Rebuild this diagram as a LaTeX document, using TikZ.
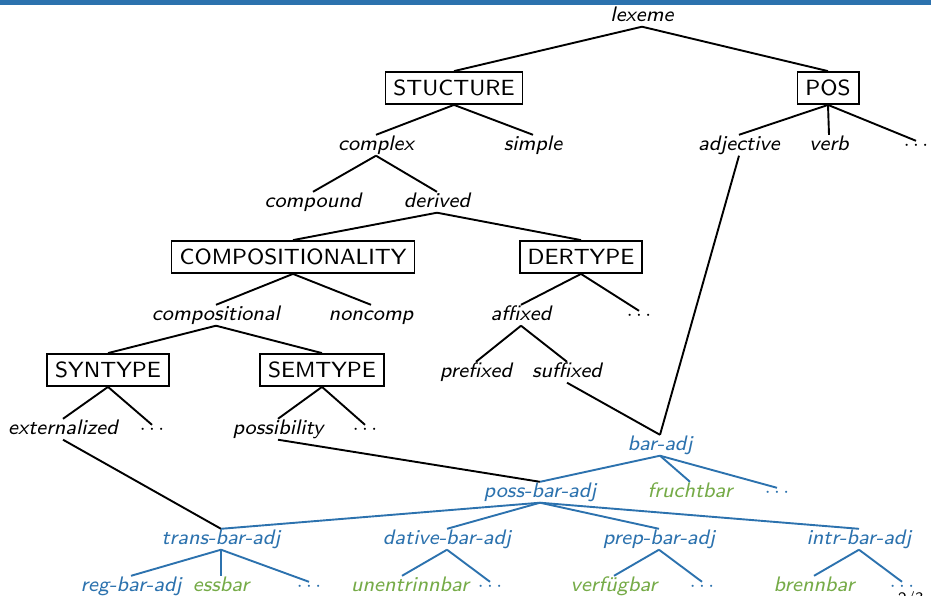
\documentclass[tikz,border=0pt]{standalone}
\usepackage{fontspec}
\setsansfont{lmsans8-regular.otf}[ItalicFont=lmsans8-oblique.otf]
\definecolor{treeblue}{RGB}{44,114,174}
\definecolor{leafgreen}{RGB}{118,171,72}
\begin{document}
\begin{tikzpicture}[x=1pt,y=-1pt,
  every node/.style={font=\fontsize{22}{26}\selectfont\sffamily},
  lab/.style={anchor=base,inner sep=1pt,text height=14pt,text depth=4.5pt,
    font=\fontsize{21}{25}\selectfont\sffamily\itshape},
  blab/.style={lab,text=treeblue},
  glab/.style={lab,text=leafgreen},
  dotsnode/.style={anchor=base,inner sep=1pt,text height=8pt,text depth=0pt},
  bdots/.style={dotsnode,text=treeblue},
  catbox/.style={draw,line width=1.8pt,inner xsep=8pt,inner ysep=0pt,minimum height=32pt},
  edge/.style={line width=1.9pt},
  bedge/.style={line width=1.9pt,draw=treeblue}]
\useasboundingbox (0,0) rectangle (931,595);
% frame title rule
\fill[treeblue] (0,0) rectangle (931,5);

% upper hierarchy
\node[lab] (lexeme) at (642,21) {lexeme};
\node[catbox] (stru) at (454,88) {STUCTURE};
\node[catbox] (pos) at (828,88) {POS};
\node[lab] (complex) at (376,150) {complex};
\node[lab] (simple) at (533,150) {simple};
\node[lab] (adj) at (739,150) {adjective};
\node[lab] (verb) at (829,150) {verb};
\node[dotsnode] (posdots) at (916,150) {$\cdots$};
\node[lab] (compound) at (313,207) {compound};
\node[lab] (derived) at (437,207) {derived};
\node[catbox] (compo) at (293,257) {COMPOSITIONALITY};
\node[catbox] (dert) at (581,257) {DERTYPE};
\node[lab] (compal) at (216,320) {compositional};
\node[lab] (noncomp) at (371,320) {noncomp};
\node[lab] (affixed) at (521,320) {affixed};
\node[dotsnode] (derdots) at (639,320) {$\cdots$};
\node[catbox] (syn) at (108,370) {SYNTYPE};
\node[catbox] (sem) at (322,370) {SEMTYPE};
\node[lab] (prefixed) at (476,377) {prefixed};
\node[lab] (suffixed) at (567,377) {suffixed};
\node[lab] (ext) at (63,434) {externalized};
\node[dotsnode] (syndots) at (152,434) {$\cdots$};
\node[lab] (possib) at (278,434) {possibility};
\node[dotsnode] (semdots) at (365,434) {$\cdots$};

% lexical type hierarchy
\node[blab] (baradj) at (660,450) {bar-adj};
\node[blab] (possbar) at (540,497) {poss-bar-adj};
\node[glab] (frucht) at (690,497) {fruchtbar};
\node[bdots] (bardots) at (777,497) {$\cdots$};
\node[blab] (trans) at (221,544) {trans-bar-adj};
\node[blab] (dative) at (447,544) {dative-bar-adj};
\node[blab] (prep) at (659,544) {prep-bar-adj};
\node[blab] (intr) at (859,544) {intr-bar-adj};
\node[blab] (regbar) at (131,591) {reg-bar-adj};
\node[glab] (essbar) at (221,591) {essbar};
\node[bdots] (transdots) at (309,591) {$\cdots$};
\node[glab] (unent) at (410,591) {unentrinnbar};
\node[bdots] (datdots) at (490,591) {$\cdots$};
\node[glab] (verfueg) at (614,591) {verfügbar};
\node[bdots] (prepdots) at (702,591) {$\cdots$};
\node[glab] (brenn) at (814,591) {brennbar};
\node[bdots] (intrdots) at (902,591) {$\cdots$};

% page number, running off the bottom edge
\node[anchor=north west,inner sep=0pt,font=\fontsize{16}{18}\selectfont\sffamily] (pageno) at (898,591) {2/3};

% black edges
\draw[edge] (lexeme.south) -- (stru.north);
\draw[edge] (lexeme.south) -- (pos.north);
\draw[edge] (stru.south) -- (complex.north);
\draw[edge] (stru.south) -- (simple.north);
\draw[edge] (pos.south) -- (adj.north);
\draw[edge] (pos.south) -- (verb.north);
\draw[edge] (pos.south) -- (posdots.north);
\draw[edge] (complex.south) -- (compound.north);
\draw[edge] (complex.south) -- (derived.north);
\draw[edge] (derived.south) -- (compo.north);
\draw[edge] (derived.south) -- (dert.north);
\draw[edge] (compo.south) -- (compal.north);
\draw[edge] (compo.south) -- (noncomp.north);
\draw[edge] (dert.south) -- (affixed.north);
\draw[edge] (dert.south) -- (derdots.north);
\draw[edge] (compal.south) -- (syn.north);
\draw[edge] (compal.south) -- (sem.north);
\draw[edge] (affixed.south) -- (prefixed.north);
\draw[edge] (affixed.south) -- (suffixed.north);
\draw[edge] (syn.south) -- (ext.north);
\draw[edge] (syn.south) -- (syndots.north);
\draw[edge] (sem.south) -- (possib.north);
\draw[edge] (sem.south) -- (semdots.north);
% multiple inheritance into the lexical types
\draw[edge] (suffixed.south) -- (baradj.north);
\draw[edge] (adj.south) -- (baradj.north);
\draw[edge] (possib.south) -- (possbar.north);
\draw[edge] (ext.south) -- (trans.north);

% blue edges
\draw[bedge] (baradj.south) -- (possbar.north);
\draw[bedge] (baradj.south) -- (frucht.north);
\draw[bedge] (baradj.south) -- (bardots.north);
\draw[bedge] (possbar.south) -- (trans.north);
\draw[bedge] (possbar.south) -- (dative.north);
\draw[bedge] (possbar.south) -- (prep.north);
\draw[bedge] (possbar.south) -- (intr.north);
\draw[bedge] (trans.south) -- (regbar.north);
\draw[bedge] (trans.south) -- (essbar.north);
\draw[bedge] (trans.south) -- (transdots.north);
\draw[bedge] (dative.south) -- ([xshift=-8pt]unent.north);
\draw[bedge] (dative.south) -- (datdots.north);
\draw[bedge] (prep.south) -- (verfueg.north);
\draw[bedge] (prep.south) -- (prepdots.north);
\draw[bedge] (intr.south) -- (brenn.north);
\draw[bedge] (intr.south) -- (intrdots.north);
\end{tikzpicture}
\end{document}
